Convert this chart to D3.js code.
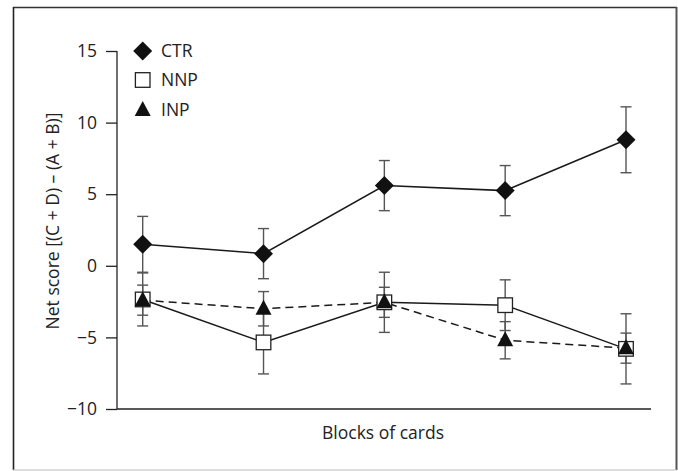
<!DOCTYPE html>
<meta charset="utf-8">
<head>
<style>
body { margin: 0; background: #fff; }
svg { display: block; font-family: "Open Sans", sans-serif; }
.axis path, .axis line { stroke: #222; stroke-width: 1.3; }
.series { fill: none; stroke: #1a1a1a; stroke-width: 1.5; }
.err { stroke: #555; stroke-width: 1.4; }
.label { font-size: 17.5px; fill: #222; }
</style>
</head>
<body>
<svg width="678" height="471"></svg>
<script src="https://d3js.org/d3.v7.min.js"></script>
<script>

var blocks = [1, 2, 3, 4, 5];
var yTicks = [-10, -5, 0, 5, 10, 15];

var ctr    = [1.5, 0.85, 5.6, 5.25, 8.8];
var ctrErr = [1.95, 1.75, 1.75, 1.75, 2.3];
var nnp    = [-2.35, -5.35, -2.55, -2.75, -5.8];
var nnpErr = [1.85, 2.2, 2.1, 1.77, 2.45];
var inp    = [-2.4, -3.0, -2.55, -5.2, -5.75];
var inpErr = [1.05, 1.2, 1.05, 1.3, 1.05];

var svg = d3.select("svg");

// frame
svg.append("line").attr("x1", 13).attr("x2", 677).attr("y1", 7.5).attr("y2", 7.5)
    .attr("stroke", "#333").attr("stroke-width", 1.4);
svg.append("line").attr("x1", 13.5).attr("x2", 13.5).attr("y1", 7).attr("y2", 470)
    .attr("stroke", "#222").attr("stroke-width", 1.6);
svg.append("line").attr("x1", 676.5).attr("x2", 676.5).attr("y1", 7).attr("y2", 470)
    .attr("stroke", "#555").attr("stroke-width", 2);
svg.append("line").attr("x1", 13).attr("x2", 677).attr("y1", 470).attr("y2", 470)
    .attr("stroke", "#bbb").attr("stroke-width", 1);

var x = d3.scalePoint().domain(blocks).range([142.7, 626]);
var y = d3.scaleLinear().domain([-10, 15]).range([409, 51]);

var yAxis = svg.append("g")
    .attr("class", "axis")
    .attr("transform", "translate(117,0)")
    .call(d3.axisLeft(y).tickValues(yTicks).tickSize(11).tickPadding(9)
      .tickFormat(function(d) { return d < 0 ? "\u2212" + Math.abs(d) : d; }))
    .call(function(g) { g.select(".domain").attr("d", "M0," + y(15) + "V" + y(-10)); });

yAxis.attr("font-size", null).attr("font-family", null);
yAxis.selectAll("text").attr("font-size", "17.5px").attr("fill", "#222");

svg.append("line")
    .attr("x1", 117).attr("x2", 651)
    .attr("y1", y(-10)).attr("y2", y(-10))
    .attr("stroke", "#222").attr("stroke-width", 1.3);

svg.append("text")
    .attr("class", "label")
    .attr("x", 383).attr("y", 439)
    .attr("text-anchor", "middle")
    .text("Blocks of cards");

svg.append("text")
    .attr("class", "label")
    .attr("transform", "translate(59,221) rotate(-90)")
    .attr("text-anchor", "middle")
    .text("Net score [(C + D) \u2013 (A + B)]");

var series = [
  { name: "CTR", values: ctr, err: ctrErr, dash: null, shape: "diamond" },
  { name: "NNP", values: nnp, err: nnpErr, dash: null, shape: "square" },
  { name: "INP", values: inp, err: inpErr, dash: "8,5", shape: "triangle" }
];

var line = d3.line()
    .x(function(d, i) { return x(blocks[i]); })
    .y(function(d) { return y(d); });

series.forEach(function(s) {
  svg.append("path")
      .attr("class", "series")
      .attr("d", line(s.values))
      .attr("stroke-dasharray", s.dash);
});

// error bars
series.forEach(function(s) {
  var g = svg.append("g").attr("class", "err");
  s.values.forEach(function(v, i) {
    var cx = x(blocks[i]), hi = y(v + s.err[i]), lo = y(v - s.err[i]);
    g.append("line").attr("x1", cx).attr("x2", cx).attr("y1", hi).attr("y2", lo);
    g.append("line").attr("x1", cx - 5.5).attr("x2", cx + 5.5).attr("y1", hi).attr("y2", hi);
    g.append("line").attr("x1", cx - 5.5).attr("x2", cx + 5.5).attr("y1", lo).attr("y2", lo);
  });
});

function drawMarker(g, shape, cx, cy) {
  if (shape === "diamond") {
    g.append("path")
        .attr("d", "M" + cx + "," + (cy - 9.5) + "L" + (cx + 9.5) + "," + cy +
              "L" + cx + "," + (cy + 9.5) + "L" + (cx - 9.5) + "," + cy + "Z")
        .attr("fill", "#111");
  } else if (shape === "square") {
    g.append("rect")
        .attr("x", cx - 7.3).attr("y", cy - 7.3)
        .attr("width", 14.6).attr("height", 14.6)
        .attr("fill", "#fff").attr("stroke", "#222").attr("stroke-width", 1.3);
  } else {
    g.append("path")
        .attr("d", "M" + cx + "," + (cy - 9) + "L" + (cx + 8) + "," + (cy + 6) +
              "L" + (cx - 8) + "," + (cy + 6) + "Z")
        .attr("fill", "#111");
  }
}

series.forEach(function(s) {
  var g = svg.append("g");
  s.values.forEach(function(v, i) {
    drawMarker(g, s.shape, x(blocks[i]), y(v));
  });
});

// legend
var legendY = [51, 80, 110];
series.forEach(function(s, i) {
  var g = svg.append("g");
  drawMarker(g, s.shape, 142.7, legendY[i]);
  g.append("text")
      .attr("class", "label")
      .attr("x", 161).attr("y", legendY[i])
      .attr("dy", "0.35em")
      .text(s.name);
});

</script>
</body>
</html>
